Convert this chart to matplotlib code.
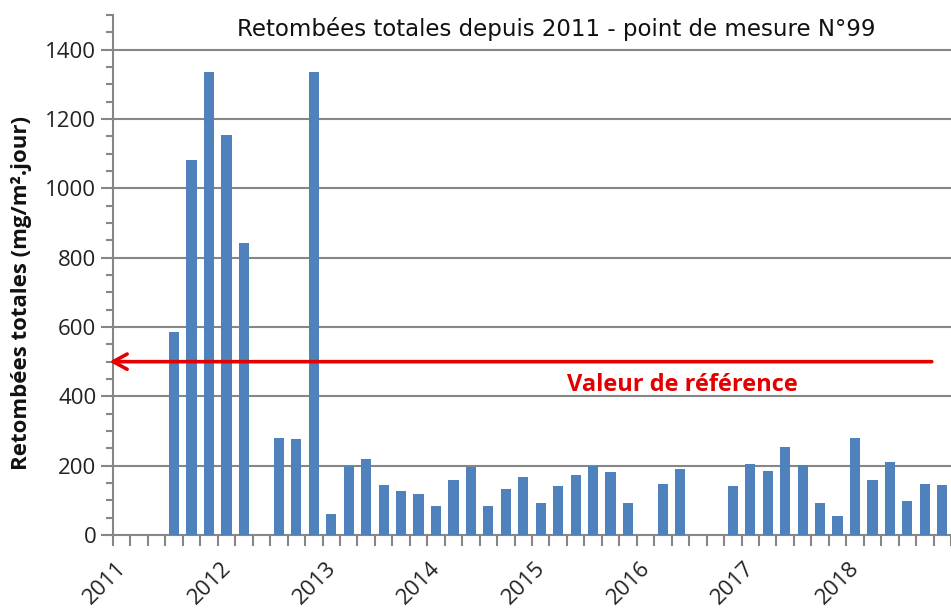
import numpy as np
import matplotlib
matplotlib.use("Agg")
import matplotlib.pyplot as plt
import matplotlib.transforms as mtrans

# ---- data ----
years = ["2011", "2012", "2013", "2014", "2015", "2016", "2017", "2018"]
periods_per_year = 6  # bimonthly periods
values = [None, None, None, 586, 1081, 1337, 1155, 842, None, 279, 276, 1335,
          62, 200, 220, 143, 128, 117, 83, 160, 197, 84, 132, 166,
          92, 140, 173, 199, 181, 92, None, 147, 191, None, None, 140,
          206, 185, 255, 201, 92, 54, 280, 158, 211, 99, 147, 143]
ref_value = 500
ref_label = "Valeur de référence"
title = "Retombées totales depuis 2011 - point de mesure N°99"
ylabel = "Retombées totales (mg/m².jour)"

plt.rcParams['font.family'] = ['Open Sans', 'DejaVu Sans']

W, H = 951, 610
fig = plt.figure(figsize=(W / 100, H / 100), dpi=100)
ax = fig.add_axes([113 / W, 75 / H, (W - 113) / W, (535 - 15) / H])

n = len(values)
vals = np.array([np.nan if v is None else v for v in values], dtype=float)
x = np.arange(n) + 0.5
ax.bar(x, vals, width=0.58, color="#4F81BD", zorder=3)

ax.set_xlim(0, n)
ax.set_ylim(0, 1500)

grid_c = "#868686"
ax.set_yticks(np.arange(0, 1401, 200))
ax.set_yticks(np.arange(0, 1501, 50), minor=True)
ax.set_xticks(np.arange(0, n + 1))
ax.set_xticklabels([])
for y in range(200, 1401, 200):
    ax.axhline(y, color=grid_c, lw=1.5, zorder=1)

for s in ["top", "right"]:
    ax.spines[s].set_visible(False)
for s in ["left", "bottom"]:
    ax.spines[s].set_color(grid_c)
    ax.spines[s].set_linewidth(1.5)
ax.tick_params(axis="y", which="major", direction="out", length=9, width=1.5,
               color=grid_c, labelsize=16, labelcolor="#222222", pad=3)
ax.tick_params(axis="y", which="minor", direction="out", length=5, width=1.5,
               color=grid_c)
ax.tick_params(axis="x", which="major", direction="out", length=8, width=1.5,
               color=grid_c)

# year labels
for i, yr in enumerate(years):
    xpos = i * periods_per_year
    off = mtrans.offset_copy(ax.transData, fig=fig, x=10, y=-30, units="dots")
    ax.text(xpos, 0, yr, transform=off, rotation=45, ha="right", va="center",
            rotation_mode="anchor", fontsize=16, color="#222222", clip_on=False)

# reference arrow
ax.annotate("", xy=(-0.2, ref_value), xytext=(46.9, ref_value),
            xycoords="data", textcoords="data",
            arrowprops=dict(arrowstyle="->,head_length=1.0,head_width=0.55",
                            color="#E30000", lw=2.6, shrinkA=0, shrinkB=0),
            annotation_clip=False, zorder=5)
ax.text(32.6, 433, ref_label, color="#E30000", fontsize=17, fontweight="bold",
        ha="center", va="center", zorder=5)

fig.text(556 / W, 1 - 29 / H, title, ha="center", va="center", fontsize=16.5,
         color="#111111", family=["DejaVu Sans"])
fig.text(22 / W, 1 - 293 / H, ylabel, ha="center", va="center", rotation=90,
         fontsize=16, fontweight="bold", color="#111111")

fig.savefig("out.png", dpi=100)
